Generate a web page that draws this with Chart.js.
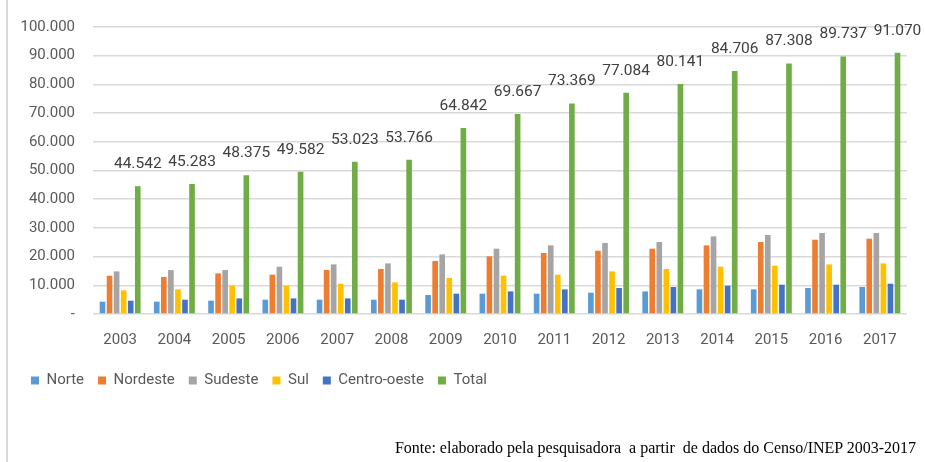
<!DOCTYPE html>
<html>
<head>
<meta charset="utf-8">
<script src="https://cdn.jsdelivr.net/npm/chart.js@4.4.0/dist/chart.umd.min.js"></script>
<style>
    html, body { margin: 0; padding: 0; background: #fff; }
    #wrap { position: relative; width: 925px; height: 462px; overflow: hidden; }
    #frame { position: absolute; left: 6px; top: 0; width: 2px; height: 462px; background: #d9d9d9; }
    #fonte { position: absolute; right: 9px; top: 439px; font-family: 'Liberation Serif', 'Times New Roman', serif; font-size: 16px; color: #000; white-space: pre; }
</style>
</head>
<body>
<div id="wrap">
    <canvas id="grafico" width="925" height="462"></canvas>
    <div id="frame"></div>
    <div id="fonte">Fonte: elaborado pela pesquisadora  a partir  de dados do Censo/INEP 2003-2017</div>
</div>
<script>
const anos = ['2003', '2004', '2005', '2006', '2007', '2008', '2009', '2010', '2011', '2012', '2013', '2014', '2015', '2016', '2017'];
const norte = [4290, 4290, 4640, 4990, 4990, 4990, 6620, 7080, 7080, 7430, 7880, 8580, 8580, 9050, 9410];
const nordeste = [13340, 12890, 14150, 13690, 15330, 15680, 18470, 20090, 21250, 22050, 22750, 23910, 25090, 25890, 26240];
const sudeste = [14850, 15300, 15300, 16470, 17280, 17630, 20770, 22750, 23910, 24730, 25090, 27040, 27510, 28220, 28220];
const sul = [8230, 8580, 9860, 9860, 10560, 11020, 12540, 13350, 13690, 14850, 15680, 16470, 16830, 17280, 17630];
const centroOeste = [4630, 4980, 5440, 5440, 5440, 4990, 7080, 7880, 8580, 9050, 9410, 9860, 10210, 10210, 10560];
const total = [44542, 45283, 48375, 49582, 53023, 53766, 64842, 69667, 73369, 77084, 80141, 84706, 87308, 89737, 91070];
const yTicks = [0, 10000, 20000, 30000, 40000, 50000, 60000, 70000, 80000, 90000, 100000];

const fonte = "Roboto, 'Noto Sans', sans-serif";

function formatarBR(v) {
    if (v === 0) return '-';
    return String(v).replace(/\B(?=(\d{3})+(?!\d))/g, '.');
}

// rótulos só para a série Total
const rotulosTotal = {
    id: 'rotulosTotal',
    afterDatasetsDraw(chart) {
        const ctx = chart.ctx;
        const idx = chart.data.datasets.length - 1;
        const meta = chart.getDatasetMeta(idx);
        ctx.save();
        ctx.font = '15.5px ' + fonte;
        ctx.fillStyle = '#404040';
        ctx.textAlign = 'center';
        ctx.textBaseline = 'middle';
        meta.data.forEach(function (bar, i) {
            ctx.fillText(formatarBR(total[i]), bar.x, bar.y - 22);
        });
        ctx.restore();
    }
};

const ctx = document.getElementById('grafico').getContext('2d');
const grafico = new Chart(ctx, {
    type: 'bar',
    data: {
        labels: anos,
        datasets: [
            { label: 'Norte', data: norte, backgroundColor: '#5B9BD5' },
            { label: 'Nordeste', data: nordeste, backgroundColor: '#ED7D31' },
            { label: 'Sudeste', data: sudeste, backgroundColor: '#A5A5A5' },
            { label: 'Sul', data: sul, backgroundColor: '#FFC000' },
            { label: 'Centro-oeste', data: centroOeste, backgroundColor: '#4472C4' },
            { label: 'Total', data: total, backgroundColor: '#70AD47' }
        ]
    },
    options: {
        responsive: false,
        animation: false,
        layout: {
            padding: { top: 26, right: 18, bottom: 64, left: 17 }
        },
        datasets: {
            bar: { categoryPercentage: 0.78, barPercentage: 0.8 }
        },
        scales: {
            x: {
                grid: { display: false },
                border: { display: false },
                ticks: { color: '#595959', font: { family: fonte, size: 15 }, padding: 9, maxRotation: 0 },
                afterFit: function (s) { s.height = 45; }
            },
            y: {
                min: 0,
                max: 100000,
                afterBuildTicks: function (s) { s.ticks = yTicks.map(v => ({ value: v })); },
                grid: { color: '#d9d9d9', lineWidth: 1.5, drawTicks: false },
                border: { display: false },
                ticks: {
                    color: '#595959',
                    font: { family: fonte, size: 15 },
                    padding: 18,
                    callback: function (v) { return formatarBR(v); }
                },
                afterFit: function (s) { s.width = 76; }
            }
        },
        plugins: {
            tooltip: { enabled: false },
            legend: {
                position: 'bottom',
                align: 'start',
                labels: {
                    color: '#595959',
                    font: { family: fonte, size: 15 },
                    boxWidth: 8,
                    boxHeight: 8,
                    padding: 14
                }
            }
        }
    },
    plugins: [rotulosTotal]
});
</script>
</body>
</html>
